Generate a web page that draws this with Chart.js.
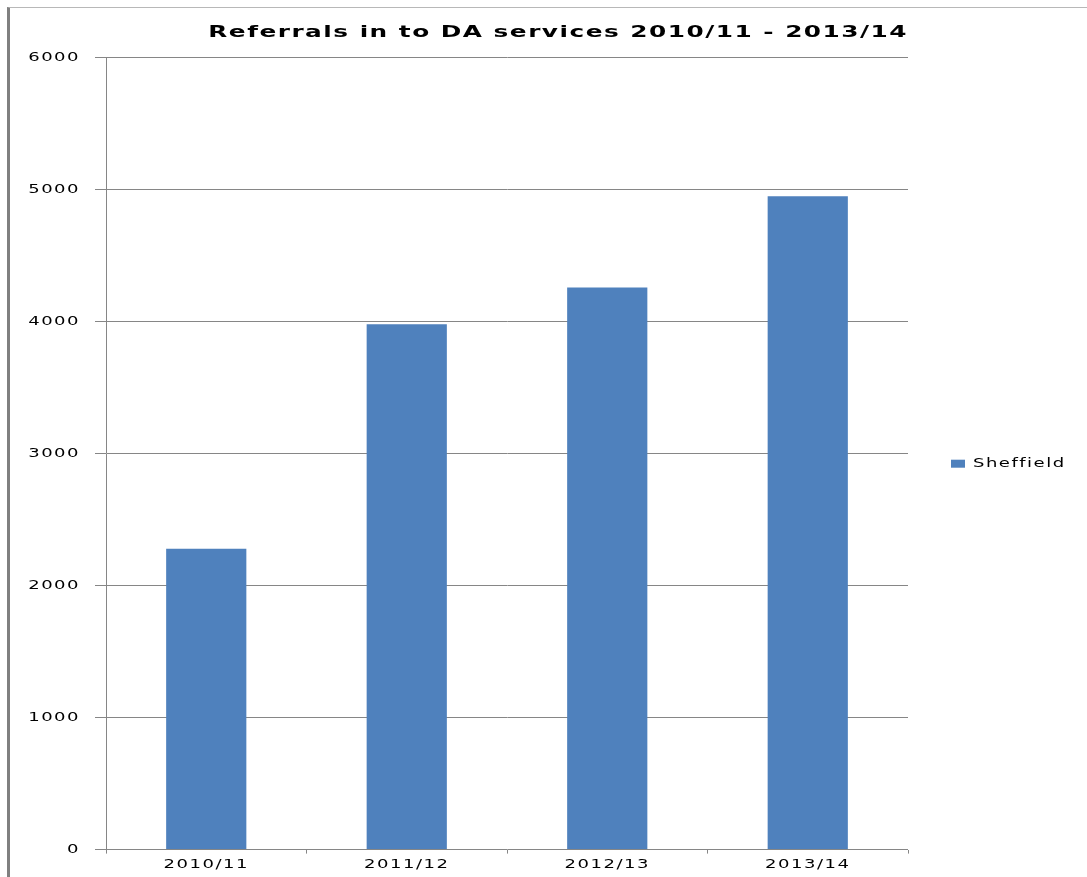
<!DOCTYPE html>
<html>
<head>
<meta charset="utf-8">
<script src="https://cdn.jsdelivr.net/npm/chart.js@4"></script>
<style>
    html, body { margin: 0; padding: 0; background: #fff; }
    #wrap { position: relative; width: 1087px; height: 877px; }
    #frame {
        position: absolute; left: 7px; top: 7px; right: 0; bottom: 0;
        border-left: 3px solid #808080; border-top: 1px solid #b8b8b8;
        pointer-events: none;
    }
    canvas { position: absolute; left: 0; top: 0; }
</style>
</head>
<body>
<div id="wrap">
    <canvas id="chart" width="1087" height="877"></canvas>
    <div id="frame"></div>
</div>
<script>
// --- Data ---
const categories = ["2010/11", "2011/12", "2012/13", "2013/14"];
const sheffield = [2280, 3980, 4260, 4950];
const seriesName = "Sheffield";
const titleText = "Referrals in to DA services 2010/11 - 2013/14";

const BAR_COLOR = "#4F81BD";
const GRID_COLOR = "#868686";
const FONT = "'DejaVu Sans', Verdana, sans-serif";
const SPACING = "1px";
const STRETCH = 1.5;

// wide, flat lettering like the original export: stretch each text run
// horizontally around its own anchor, so alignment is kept
const wideText = {
    id: "wideText",
    beforeInit(chart) {
        const ctx = chart.ctx;
        const fill = ctx.fillText.bind(ctx);
        ctx.fillText = function (text, x, y, maxWidth) {
            ctx.save();
            ctx.translate(x, y);
            ctx.scale(STRETCH, 1);
            if (maxWidth === undefined) fill(text, 0, 0);
            else fill(text, 0, 0, maxWidth / STRETCH);
            ctx.restore();
        };
    },
    beforeDraw(chart) { chart.ctx.letterSpacing = SPACING; },
};

// legend sits to the right of the plot, drawn from the dataset itself
const sideLegend = {
    id: "sideLegend",
    afterDraw(chart) {
        const { ctx, chartArea } = chart;
        const ds = chart.data.datasets[0];
        const x = chartArea.right + 43;
        const y = (chartArea.top + chartArea.bottom) / 2 + 10;
        ctx.save();
        ctx.fillStyle = ds.backgroundColor;
        ctx.fillRect(x, y - 4, 14, 8);
        ctx.fillStyle = "#000";
        ctx.font = "12px " + FONT;
        ctx.textBaseline = "middle";
        ctx.textAlign = "left";
        ctx.fillText(ds.label, x + 22, y);
        ctx.restore();
    },
};

new Chart(document.getElementById("chart"), {
    type: "bar",
    data: {
        labels: categories,
        datasets: [{
            label: seriesName,
            data: sheffield,
            backgroundColor: BAR_COLOR,
            borderWidth: 0,
            categoryPercentage: 1,
            barPercentage: 0.4,
        }],
    },
    plugins: [wideText, sideLegend],
    options: {
        responsive: false,
        animation: false,
        layout: { padding: { left: 0, right: 179, top: 0, bottom: 1 } },
        plugins: {
            legend: { display: false },
            tooltip: { enabled: false },
            title: {
                display: true,
                text: titleText,
                align: "end",
                color: "#000",
                font: { family: FONT, size: 16.5, weight: "bold" },
                padding: { top: 23, bottom: 15 },
            },
        },
        scales: {
            x: {
                grid: {
                    offset: true,
                    drawOnChartArea: false,
                    tickLength: 4,
                    color: GRID_COLOR,
                },
                border: { display: false },
                ticks: { color: "#000", font: { family: FONT, size: 12 }, padding: 4, maxRotation: 0 },
            },
            y: {
                min: 0,
                max: 6000,
                ticks: {
                    stepSize: 1000,
                    color: "#000",
                    font: { family: FONT, size: 12 },
                    padding: 15,
                    callback: (v) => String(v),
                },
                grid: { color: GRID_COLOR, tickLength: 11 },
                border: { color: GRID_COLOR },
                afterFit(scale) { scale.width = 106; },
            },
        },
    },
});
</script>
</body>
</html>
